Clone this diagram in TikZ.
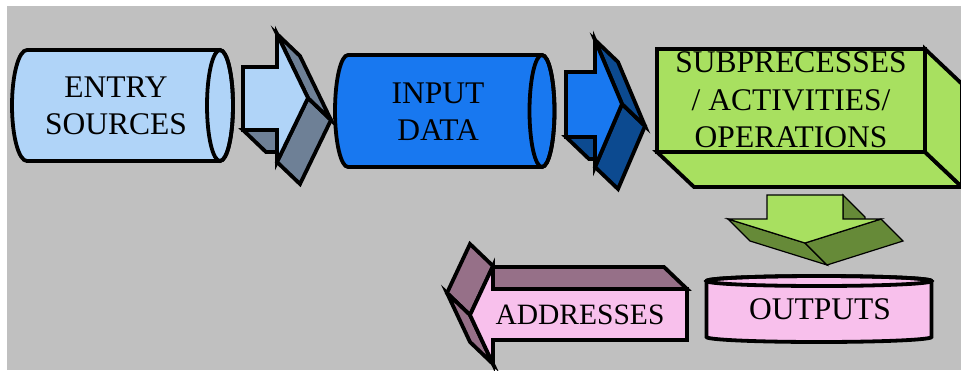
\documentclass[tikz,border=0pt]{standalone}
\usepackage{fontspec}
\setmainfont{Liberation Serif}

\definecolor{canvas}{HTML}{C0C0C0}
\definecolor{skyface}{HTML}{B0D4F8}
\definecolor{skyside}{HTML}{6E8096}
\definecolor{blueface}{HTML}{1878F0}
\definecolor{blueside}{HTML}{0C4A90}
\definecolor{greenface}{HTML}{A8E060}
\definecolor{greenside}{HTML}{668A38}
\definecolor{pinkface}{HTML}{F8C0EC}
\definecolor{pinkside}{HTML}{967088}

\begin{document}
\begin{tikzpicture}[x=1pt,y=-1pt,
  outline/.style={draw=black,line width=3.8pt},
  thinline/.style={draw=black,line width=1.2pt},
  lbl/.style={font=\fontsize{31.5}{37.5}\selectfont,align=center,inner sep=0pt,text=black}]
\useasboundingbox (0,0) rectangle (961,370);
\clip (0,0) rectangle (961,370);
\fill[canvas] (7,6) rectangle (961,370);

% ---- entry sources: horizontal cylinder ----
\path[outline,fill=skyface]
  (27,50) -- (220,50)
  .. controls (227.18,50) and (233,74.85) .. (233,105.5)
  .. controls (233,136.15) and (227.18,161) .. (220,161)
  -- (27,161)
  .. controls (18.72,161) and (12,136.15) .. (12,105.5)
  .. controls (12,74.85) and (18.72,50) .. (27,50) -- cycle;
\draw[outline] (220,105.5) ellipse [x radius=13,y radius=55.5];
\node[lbl] (entry) at (116,106) {ENTRY\\SOURCES};

% ---- first block arrow (extruded) ----
\path[outline,fill=skyside] (277,130) -- (243,130) -- (266,152) -- (300,152) -- cycle;
\path[outline,fill=skyside] (308,98) -- (277,162) -- (300,184) -- (331,120) -- cycle;
\path[outline,fill=skyside] (277,34) -- (308,98) -- (331,120) -- (300,56) -- cycle;
\path[outline,fill=skyface] (243,67) -- (277,67) -- (277,34) -- (308,98) -- (277,162) -- (277,130) -- (243,130) -- cycle;

% ---- input data: horizontal cylinder ----
\path[outline,fill=blueface]
  (348,55) -- (542,55)
  .. controls (548.9,55) and (554.5,80.07) .. (554.5,111)
  .. controls (554.5,141.93) and (548.9,167) .. (542,167)
  -- (348,167)
  .. controls (340.82,167) and (335,141.93) .. (335,111)
  .. controls (335,80.07) and (340.82,55) .. (348,55) -- cycle;
\draw[outline] (542,111) ellipse [x radius=12.5,y radius=56];
\node[lbl] (input) at (438,111.5) {INPUT\\DATA};

% ---- second block arrow (extruded) ----
\path[outline,fill=blueside] (595,137) -- (566,137) -- (589,159) -- (618,159) -- cycle;
\path[outline,fill=blueside] (622,104) -- (595,167) -- (618,189) -- (645,126) -- cycle;
\path[outline,fill=blueside] (595,40) -- (622,104) -- (645,126) -- (618,62) -- cycle;
\path[outline,fill=blueface] (566,72) -- (595,72) -- (595,40) -- (622,104) -- (595,167) -- (595,137) -- (566,137) -- cycle;

% ---- subprocesses: box in oblique view ----
\path[outline,fill=greenface] (657,152) -- (925,152) -- (962,187) -- (694,187) -- cycle;
\path[outline,fill=greenface] (925,49) -- (962,84) -- (962,187) -- (925,152) -- cycle;
\path[outline,fill=greenface] (657,49) rectangle (925,152);
\node[lbl] (subproc) at (791,100) {SUBPRECESSES\\/ ACTIVITIES/\\OPERATIONS};

% ---- downward block arrow (extruded, thin outline) ----
\path[thinline,fill=greenside] (843,195) -- (843,219) -- (865,241) -- (865,217) -- cycle;
\path[thinline,fill=greenside] (805,243) -- (728,219) -- (750,241) -- (827,265) -- cycle;
\path[thinline,fill=greenside] (881,219) -- (805,243) -- (827,265) -- (903,241) -- cycle;
\path[thinline,fill=greenface] (767,195) -- (843,195) -- (843,219) -- (881,219) -- (805,243) -- (728,219) -- (767,219) -- cycle;

% ---- outputs: upright cylinder ----
\path[outline,fill=pinkface]
  (706.5,281) -- (706.5,337)
  .. controls (706.5,339.76) and (756.87,342) .. (819,342)
  .. controls (881.13,342) and (931.5,339.76) .. (931.5,337)
  -- (931.5,281)
  .. controls (931.5,278.24) and (881.13,276) .. (819,276)
  .. controls (756.87,276) and (706.5,278.24) .. (706.5,281) -- cycle;
\draw[outline] (819,281) ellipse [x radius=112.5,y radius=5];
\node[lbl] (outputs) at (820,309) {OUTPUTS};

% ---- addresses: leftward block arrow (extruded) ----
\path[outline,fill=pinkside] (493,289) -- (687,289) -- (664,267) -- (470,267) -- cycle;
\path[outline,fill=pinkside] (470,315) -- (493,266) -- (470,244) -- (447,293) -- cycle;
\path[outline,fill=pinkside] (493,364) -- (470,315) -- (447,293) -- (470,342) -- cycle;
\path[outline,fill=pinkface] (470,315) -- (493,266) -- (493,289) -- (687,289) -- (687,340) -- (493,340) -- (493,364) -- cycle;
\node[lbl,font=\fontsize{29.5}{35}\selectfont] (addresses) at (580,315) {ADDRESSES};
\end{tikzpicture}
\end{document}
